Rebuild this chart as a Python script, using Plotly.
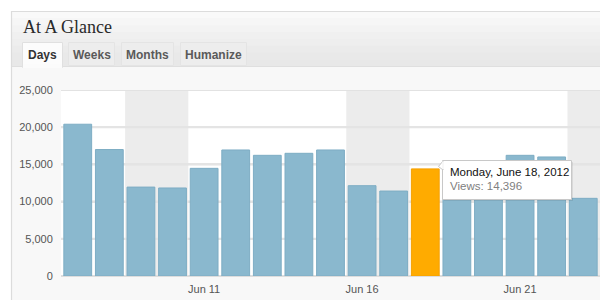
import plotly.graph_objects as go
import pandas as pd

# ---- data ----
dates = ["2012-06-07", "2012-06-08", "2012-06-09", "2012-06-10", "2012-06-11",
         "2012-06-12", "2012-06-13", "2012-06-14", "2012-06-15", "2012-06-16",
         "2012-06-17", "2012-06-18", "2012-06-19", "2012-06-20", "2012-06-21",
         "2012-06-22", "2012-06-23"]
views = [20400, 17000, 11950, 11830, 14470, 16940, 16220, 16490, 16940, 12140,
         11420, 14396, 13900, 14600, 16220, 16000, 10440]
tick_labels = ["Jun 11", "Jun 16", "Jun 21"]
y_ticks = [0, 5000, 10000, 15000, 20000, 25000]
highlight_date = "2012-06-18"
title_text = "At A Glance"
tabs = ["Days", "Weeks", "Months", "Humanize"]

# ---- derived ----
dts = pd.to_datetime(dates)
labels = [d.strftime("%b ") + str(d.day) for d in dts]
xs = list(range(len(dates)))
tickvals = [i for i, l in enumerate(labels) if l in tick_labels]
hi = dates.index(highlight_date)
colors = ["#ffab00" if i == hi else "#8ab8ce" for i in xs]
lines = ["#f5a000" if i == hi else "#7eadc4" for i in xs]
x_range = [-0.53, 16.53]

L, T, B = 61, 90, 276
W = 600 - L
H = B - T


def px(x):
    return (x - L) / W


def py(y):
    return (B - y) / H


shapes = []
annotations = []

# weekend bands
for i, d in enumerate(dts):
    if d.weekday() == 5:
        shapes.append(dict(type="rect", xref="x", yref="y", x0=i - 0.5, x1=i + 1.5,
                           y0=0, y1=25000, fillcolor="#ececec", line_width=0, layer="below"))
# gridlines over the weekend bands (under bars)
for v in y_ticks[1:]:
    shapes.append(dict(type="line", xref="x", yref="y", x0=x_range[0], x1=x_range[1], y0=v, y1=v,
                       line=dict(color="#e2e2e2", width=2), layer="below"))

# page background outside widget
shapes.append(dict(type="rect", xref="paper", yref="paper", x0=px(0), x1=px(600), y0=py(0), y1=py(11),
                   fillcolor="#ffffff", line_width=0, layer="below"))
shapes.append(dict(type="rect", xref="paper", yref="paper", x0=px(0), x1=px(11), y0=py(0), y1=py(300),
                   fillcolor="#ffffff", line_width=0, layer="below"))
# header gradient
grad = ["#f9f9f9", "#f6f6f6", "#f3f3f3", "#f0f0f0", "#eeeeee", "#ebebeb", "#e9e9e9", "#e8e8e8"]
y0 = 11.5
step = (66 - 11.5) / len(grad)
for k, c in enumerate(grad):
    shapes.append(dict(type="rect", xref="paper", yref="paper", x0=px(11.5), x1=px(600),
                       y0=py(y0 + k * step), y1=py(y0 + (k + 1) * step + 0.5),
                       fillcolor=c, line_width=0, layer="below"))
# header borders
shapes.append(dict(type="line", xref="paper", yref="paper", x0=px(11), x1=px(600), y0=py(11.5), y1=py(11.5),
                   line=dict(color="#dcdcdc", width=1.2), layer="below"))
shapes.append(dict(type="line", xref="paper", yref="paper", x0=px(11), x1=px(600), y0=py(66.5), y1=py(66.5),
                   line=dict(color="#dfdfdf", width=1), layer="below"))
shapes.append(dict(type="line", xref="paper", yref="paper", x0=px(11.5), x1=px(11.5), y0=py(11), y1=py(300),
                   line=dict(color="#dcdcdc", width=1.2), layer="below"))

# tabs
tab_x = [(22.5, 62.5), (68.5, 114.5), (121.5, 173.5), (180.5, 246.5)]
for k, (name, (a, b)) in enumerate(zip(tabs, tab_x)):
    sel = k == 0
    shapes.append(dict(type="rect", xref="paper", yref="paper", x0=px(a), x1=px(b),
                       y0=py(42.5), y1=py(67.5 if sel else 65.5),
                       fillcolor="#fcfcfc" if sel else "#ededed",
                       line=dict(color="#e0e0e0" if sel else "#e4e4e4", width=1), layer="below"))
    annotations.append(dict(xref="paper", yref="paper", x=px((a + b) / 2), y=py(55),
                            text="<b>%s</b>" % name, showarrow=False, xanchor="center", yanchor="middle",
                            font=dict(family="Liberation Sans, Arial", size=12,
                                      color="#333333" if sel else "#5a5a5a")))
shapes.append(dict(type="rect", xref="paper", yref="paper", x0=px(23), x1=px(62), y0=py(64), y1=py(68),
                   fillcolor="#fbfbfb", line_width=0, layer="below"))

# title
annotations.append(dict(xref="paper", yref="paper", x=px(21), y=py(27), text=title_text, showarrow=False,
                        xanchor="left", yanchor="middle",
                        font=dict(family="Liberation Serif, serif", size=18, color="#2a2a2a")))

# tooltip
shapes.append(dict(type="rect", xref="paper", yref="paper", x0=px(444), x1=px(573), y0=py(162), y1=py(201),
                   fillcolor="rgba(0,0,0,0.08)", line_width=0, layer="above"))
shapes.append(dict(type="rect", xref="paper", yref="paper", x0=px(442.5), x1=px(571.5), y0=py(160.5), y1=py(199.5),
                   fillcolor="#ffffff", line=dict(color="#c8c8c8", width=1), layer="above"))
shapes.append(dict(type="path", xref="paper", yref="paper",
                   path="M %f,%f L %f,%f L %f,%f Z" % (px(443), py(161), px(438.5), py(166.5), px(443), py(170)),
                   fillcolor="#ffffff", line=dict(color="#c8c8c8", width=1), layer="above"))
shapes.append(dict(type="line", xref="paper", yref="paper", x0=px(443), x1=px(443), y0=py(161.5), y1=py(169),
                   line=dict(color="#ffffff", width=1.5), layer="above"))
d = dts[hi]
annotations.append(dict(xref="paper", yref="paper", x=px(448), y=py(171.5),
                        text=d.strftime("%A, %B ") + str(d.day) + d.strftime(", %Y"),
                        showarrow=False, xanchor="left", yanchor="middle",
                        font=dict(family="Liberation Sans, Arial", size=11.5, color="#111111")))
annotations.append(dict(xref="paper", yref="paper", x=px(448), y=py(186),
                        text="Views: {:,}".format(views[hi]),
                        showarrow=False, xanchor="left", yanchor="middle",
                        font=dict(family="Liberation Sans, Arial", size=11.5, color="#808080")))

fig = go.Figure(go.Bar(x=xs, y=views, marker=dict(color=colors, line=dict(color=lines, width=1)),
                       hoverinfo="skip"))

fig.update_layout(
    width=600, height=300, autosize=False,
    margin=dict(l=L, r=0, t=T, b=300 - B, pad=0),
    paper_bgcolor="#f8f8f8", plot_bgcolor="#ffffff",
    bargap=0.12, showlegend=False,
    shapes=shapes, annotations=annotations,
    font=dict(family="Liberation Sans, Arial", size=11, color="#555555"),
)
fig.update_xaxes(range=x_range, tickvals=tickvals, ticktext=[labels[i] for i in tickvals],
                 showgrid=False, zeroline=False, showline=False,
                 ticks="outside", ticklen=3, tickcolor="rgba(0,0,0,0)",
                 tickfont=dict(family="Liberation Sans, Arial", size=11, color="#555555"))
fig.update_yaxes(range=[0, 25000], tickvals=y_ticks, ticktext=["{:,}".format(v) for v in y_ticks],
                 showgrid=True, gridcolor="#e4e4e4", gridwidth=2,
                 zeroline=True, zerolinecolor="#dddddd", zerolinewidth=2,
                 ticks="outside", ticklen=5, tickcolor="rgba(0,0,0,0)",
                 tickfont=dict(family="Liberation Sans, Arial", size=11, color="#555555"))

fig.write_html("out.html", config={"displayModeBar": False})
